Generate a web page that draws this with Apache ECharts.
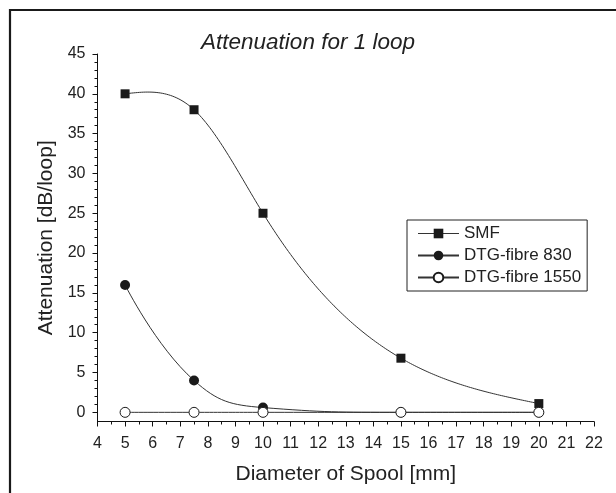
<!DOCTYPE html>
<html>
<head>
<meta charset="utf-8">
<script src="https://cdn.jsdelivr.net/npm/echarts@6/dist/echarts.min.js"></script>
<style>
html,body{margin:0;padding:0;background:#fff;}
#chart{width:616px;height:493px;}
</style>
</head>
<body>
<div id="chart"></div>
<script>
// ---- data ----
const titleText = 'Attenuation for 1 loop';
const xName = 'Diameter of Spool [mm]';
const yName = 'Attenuation [dB/loop]';
const seriesNames = ['SMF', 'DTG-fibre 830', 'DTG-fibre 1550'];
const smfX = [5, 7.5, 10, 15, 20];
const smfY = [40, 38, 25, 6.8, 1.1];
const dtg830X = [5, 7.5, 10, 15, 20];
const dtg830Y = [16, 4, 0.6, 0, 0];
const dtg1550X = [5, 7.5, 10, 15, 20];
const dtg1550Y = [0, 0, 0, 0, 0];
const yMajorTicks = [0, 5, 10, 15, 20, 25, 30, 35, 40, 45];
const yMinorTicks = [];
for (let v = 0; v <= 45; v++) { if (v % 5 !== 0) yMinorTicks.push(v); }

const pairs = (xs, ys) => xs.map((x, i) => [x, ys[i]]);

// natural cubic spline (rendering helper: curve through the data points)
function splineFn(xs, ys) {
  const n = xs.length;
  const h = [], a = [], l = [1], mu = [0], z = [0], c = new Array(n).fill(0), b = [], d = [];
  for (let i = 0; i < n - 1; i++) h.push(xs[i + 1] - xs[i]);
  for (let i = 1; i < n - 1; i++) a[i] = 3 / h[i] * (ys[i + 1] - ys[i]) - 3 / h[i - 1] * (ys[i] - ys[i - 1]);
  for (let i = 1; i < n - 1; i++) {
    l[i] = 2 * (xs[i + 1] - xs[i - 1]) - h[i - 1] * mu[i - 1];
    mu[i] = h[i] / l[i];
    z[i] = (a[i] - h[i - 1] * z[i - 1]) / l[i];
  }
  for (let j = n - 2; j >= 0; j--) {
    c[j] = (j === n - 2 ? 0 : 0) + z[j] - mu[j] * c[j + 1];
    b[j] = (ys[j + 1] - ys[j]) / h[j] - h[j] * (c[j + 1] + 2 * c[j]) / 3;
    d[j] = (c[j + 1] - c[j]) / (3 * h[j]);
  }
  return function (x) {
    let j = 0;
    while (j < n - 2 && x > xs[j + 1]) j++;
    const t = x - xs[j];
    return ys[j] + b[j] * t + c[j] * t * t + d[j] * t * t * t;
  };
}

const FONT = 'Liberation Sans, Arial, Helvetica, sans-serif';
const TXT = '#222';
const LINE = '#333';

const smfSpline = splineFn(smfX, smfY);

const chart = echarts.init(document.getElementById('chart'), null, {renderer: 'canvas'});
chart.setOption({
  backgroundColor: '#fff',
  animation: false,
  textStyle: {fontFamily: FONT, color: TXT},
  graphic: [{
    type: 'rect', silent: true, z: 100,
    shape: {x: 10, y: 10, width: 640, height: 520},
    style: {fill: 'none', stroke: '#1a1a1a', lineWidth: 2.2}
  }],
  title: {
    text: titleText, left: 'center', top: 31, padding: 0,
    textStyle: {fontFamily: FONT, fontSize: 22.5, fontStyle: 'italic', fontWeight: 'normal', color: TXT}
  },
  grid: {left: 97.5, right: 22, top: 54, bottom: 71.5, containLabel: false},
  legend: {
    orient: 'vertical', left: 407, top: 220,
    backgroundColor: '#fff',
    borderColor: '#222', borderWidth: 1,
    padding: [5, 6, 5, 10],
    itemWidth: 41, itemHeight: 12, itemGap: 5,
    textStyle: {fontFamily: FONT, fontSize: 17, color: TXT},
    data: [
      {name: seriesNames[0], lineStyle: {width: 1, color: LINE, opacity: 1}},
      {name: seriesNames[1]},
      {name: seriesNames[2]}
    ]
  },
  xAxis: {
    type: 'value', min: 4, max: 22, interval: 1,
    name: xName, nameLocation: 'middle', nameGap: 42,
    nameTextStyle: {fontFamily: FONT, fontSize: 21, color: TXT},
    axisLine: {show: true, onZero: false, lineStyle: {color: '#111', width: 1}},
    axisTick: {show: true, length: 5, lineStyle: {color: '#111'}},
    minorTick: {show: true, splitNumber: 2, length: 3, lineStyle: {color: '#111'}},
    axisLabel: {fontFamily: FONT, fontSize: 16, color: TXT, margin: 14},
    splitLine: {show: false}
  },
  yAxis: [{
    type: 'value', min: -1.15, max: 45, position: 'left',
    name: yName, nameLocation: 'middle', nameGap: 40, nameRotate: 90,
    nameTextStyle: {fontFamily: FONT, fontSize: 21, color: TXT},
    axisLine: {show: true, onZero: false, lineStyle: {color: '#111', width: 1}},
    axisTick: {show: true, length: 5, customValues: yMajorTicks, lineStyle: {color: '#111'}},
    axisLabel: {fontFamily: FONT, fontSize: 16, color: TXT, margin: 12, customValues: yMajorTicks},
    splitLine: {show: false}
  }, {
    type: 'value', min: -1.15, max: 45, position: 'left', offset: 0,
    axisLine: {show: false},
    axisTick: {show: true, length: 3, customValues: yMinorTicks, lineStyle: {color: '#111'}},
    axisLabel: {show: false},
    splitLine: {show: false}
  }],
  series: [{
    name: 'SMF curve', type: 'custom', silent: true, z: 2,
    data: pairs(smfX, smfY),
    encode: {x: 0, y: 1},
    renderItem: function (params, api) {
      if (params.dataIndex !== 0) return null;
      const pts = [];
      const x0 = smfX[0], x1 = smfX[smfX.length - 1];
      const steps = 200;
      for (let i = 0; i <= steps; i++) {
        const x = x0 + (x1 - x0) * i / steps;
        pts.push(api.coord([x, smfSpline(x)]));
      }
      return {type: 'polyline', shape: {points: pts}, style: {stroke: LINE, lineWidth: 1, fill: null}};
    }
  }, {
    name: seriesNames[0], type: 'line',
    data: pairs(smfX, smfY),
    symbol: 'rect', symbolSize: 9,
    lineStyle: {color: LINE, width: 0, opacity: 0},
    itemStyle: {color: '#1a1a1a'},
    z: 3
  }, {
    name: seriesNames[1], type: 'line', smooth: 0.45,
    data: pairs(dtg830X, dtg830Y),
    symbol: 'circle', symbolSize: 10,
    lineStyle: {color: LINE, width: 1},
    itemStyle: {color: '#1a1a1a'},
    z: 4
  }, {
    name: seriesNames[2], type: 'line', smooth: 0.45,
    data: pairs(dtg1550X, dtg1550Y),
    symbol: 'circle', symbolSize: 10,
    lineStyle: {color: LINE, width: 1},
    itemStyle: {color: '#fff', borderColor: '#1a1a1a', borderWidth: 1},
    z: 5
  }]
});
</script>
</body>
</html>
